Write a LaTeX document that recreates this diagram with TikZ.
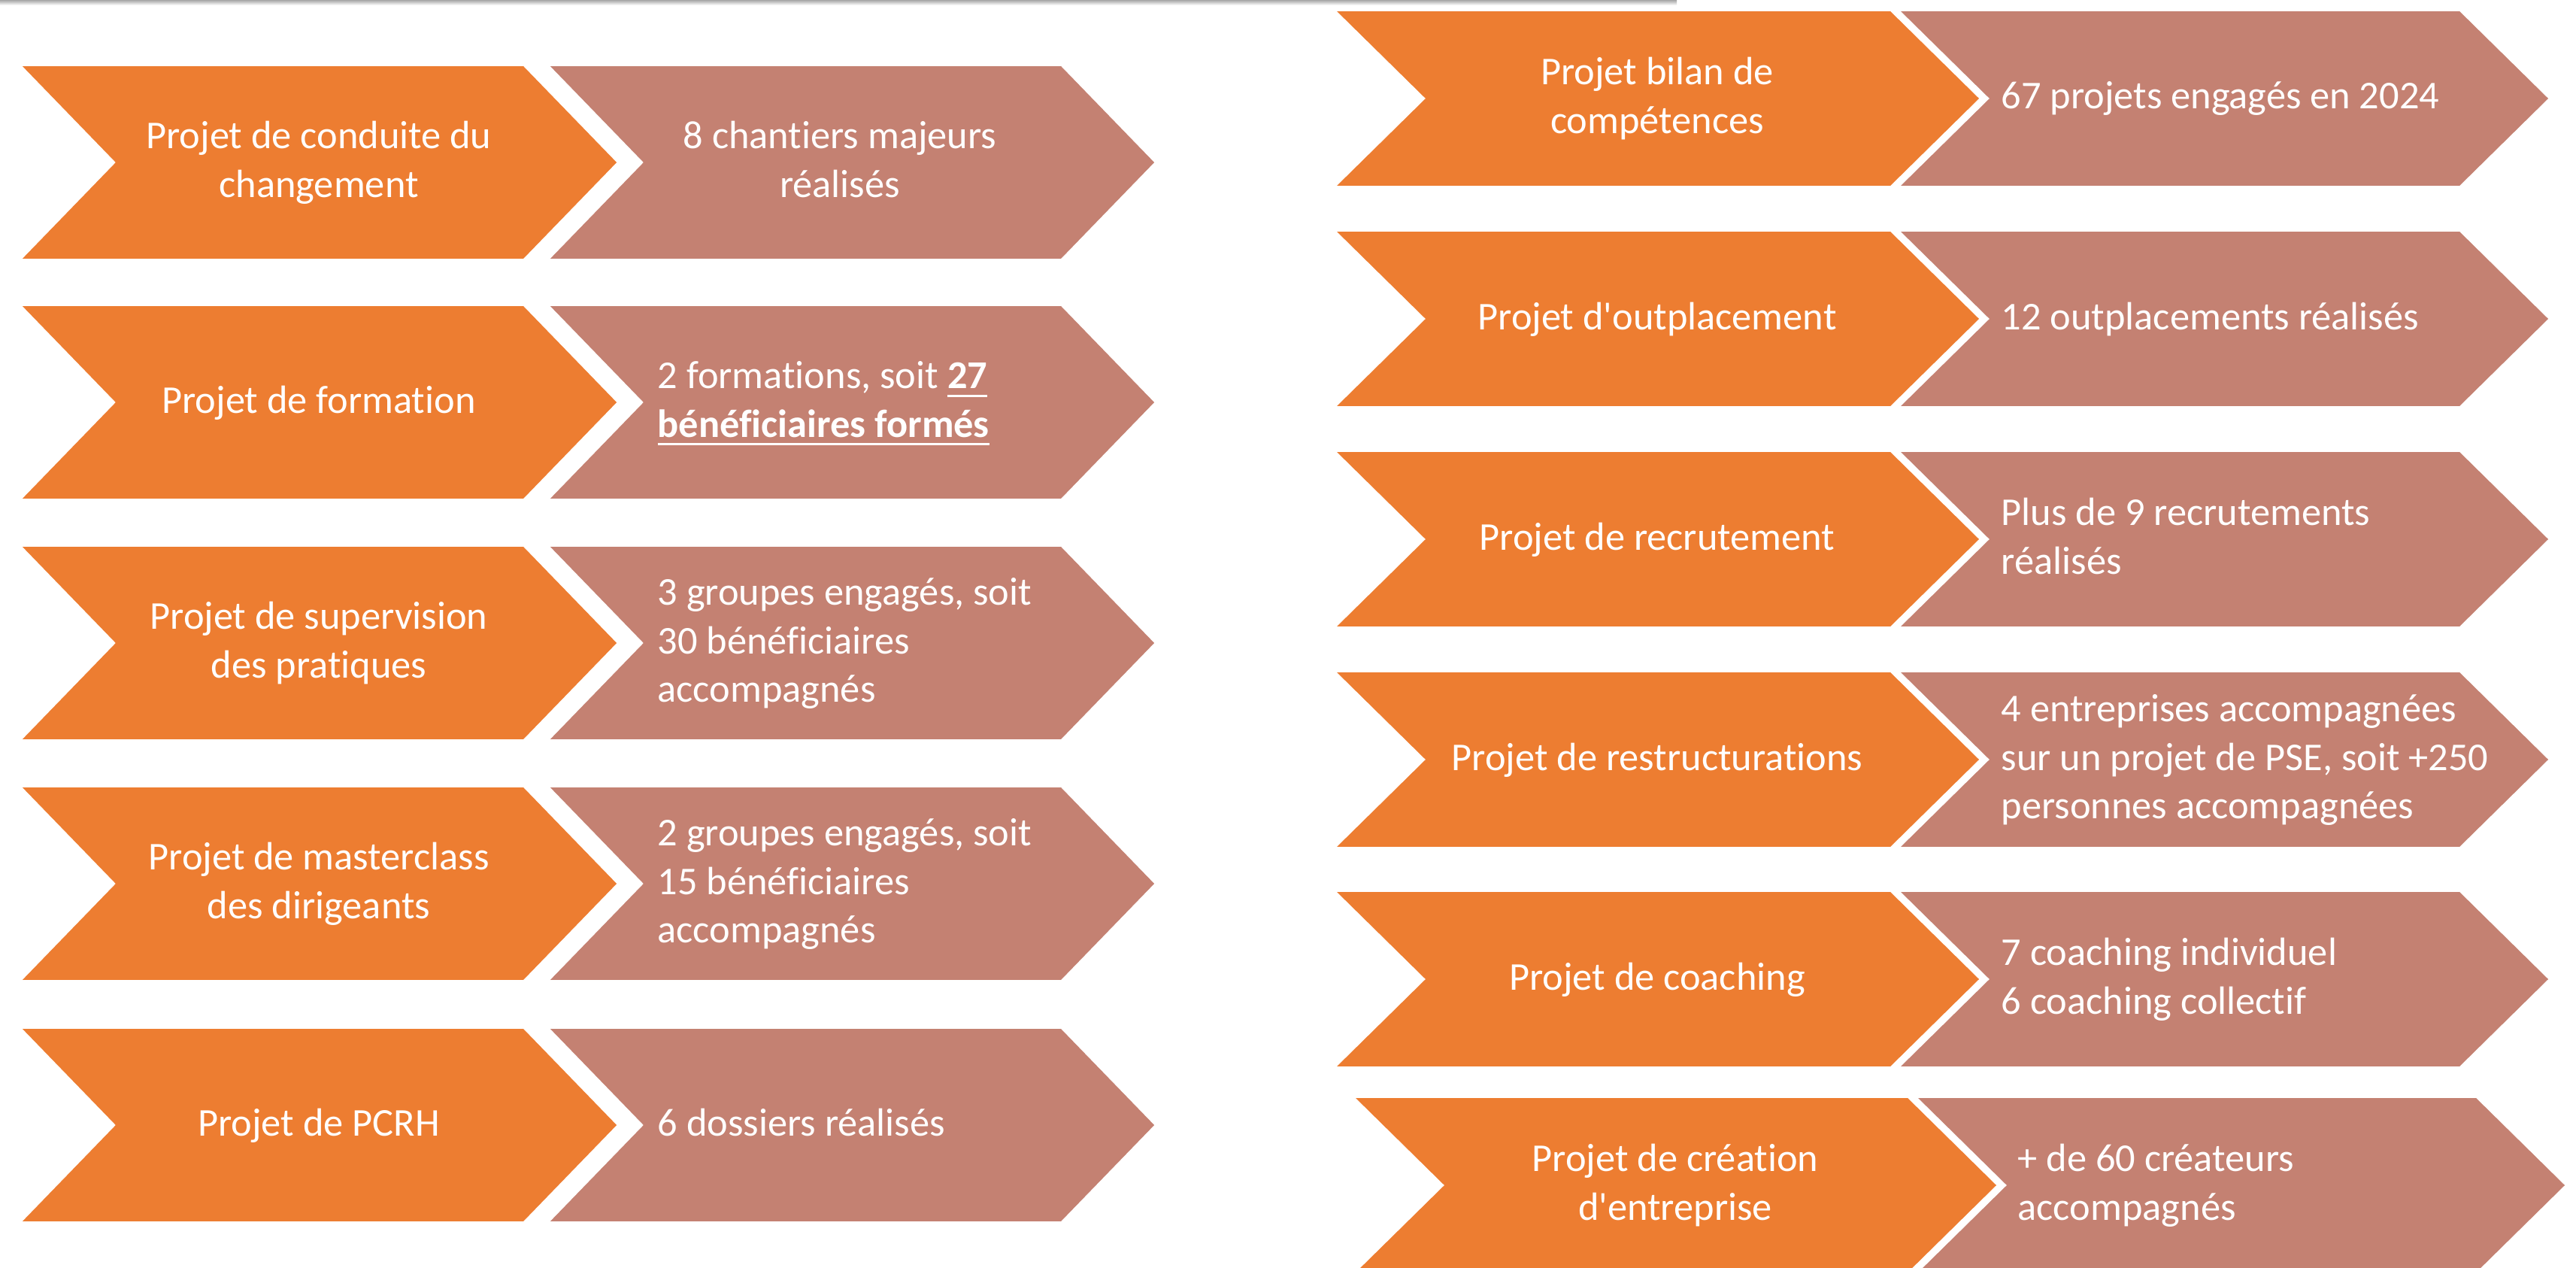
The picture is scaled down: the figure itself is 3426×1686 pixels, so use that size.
\documentclass[tikz,border=0pt]{standalone}
\usepackage{fontspec}
\setmainfont{Carlito}[Ligatures={NoCommon}]
\definecolor{chevorange}{RGB}{237,125,49}
\definecolor{chevbrown}{RGB}{196,129,114}
\newcommand\chevshape[6]{% x0, top, width, height, depth, colour
  \filldraw[fill=#6, draw=white, line width=1.1pt, line join=miter]
    (#1,#2) -- ++(#3-#5,0) -- ++(#5,#4/2) -- ++(-#5,#4/2) -- ++(-#3+#5,0) -- ++(#5,-#4/2) -- cycle;}
\newcommand\st{\rule[-5.12pt]{0pt}{18.21pt}}
\newcommand\myul[1]{\setbox0\hbox{#1}\rlap{\rule[-3.1pt]{\wd0}{0.85pt}}\box0}
\tikzset{
  lbl/.style={text=white, font=\fontsize{14.9pt}{18.21pt}\selectfont, inner sep=0pt},
  otext/.style={lbl, align=center, anchor=center},
  btext/.style={lbl, align=left, anchor=west},
}
\begin{document}
\begin{tikzpicture}[x=0.01cm, y=-0.01cm]
\useasboundingbox (0,0) rectangle (3426,1686);
\fill[white] (0,0) rectangle (3426,1686);
\clip (0,0) rectangle (3426,1686);
\shade[top color=black!35, bottom color=white] (0,0) rectangle (2230,7);

% ---------- left column ----------
\foreach \t in {86,405,725,1045,1366} {
  \chevshape{25}{\t}{798}{260}{126}{chevorange}
  \chevshape{727}{\t}{811}{260}{126}{chevbrown}
}
\node[otext] (L1a) at (424,216) {\st Projet de conduite du\\\st changement};
\node[otext] (L1b) at (1117,216) {\st 8 chantiers majeurs\\\st réalisés};
\node[otext] (L2a) at (424,535) {\st Projet de formation};
\node[btext] (L2b) at (874,535) {\st 2 formations, soit \myul{\textbf{27}}\\\st\myul{\textbf{bénéficiaires formés}}};
\node[otext] (L3a) at (424,855) {\st Projet de supervision\\\st des pratiques};
\node[btext] (L3b) at (874,855) {\st 3 groupes engagés, soit\\\st 30 bénéficiaires\\\st accompagnés};
\node[otext] (L4a) at (424,1175) {\st Projet de masterclass\\\st des dirigeants};
\node[btext] (L4b) at (874,1175) {\st 2 groupes engagés, soit\\\st 15 bénéficiaires\\\st accompagnés};
\node[otext] (L5a) at (424,1496) {\st Projet de PCRH};
\node[btext] (L5b) at (874,1496) {\st 6 dossiers réalisés};

% ---------- right column ----------
\foreach \t in {13,306,599,892,1184} {
  \chevshape{1773}{\t}{862}{236}{120}{chevorange}
  \chevshape{2523}{\t}{869}{236}{120}{chevbrown}
}
\chevshape{1798}{1458}{860}{236}{120}{chevorange}
\chevshape{2546}{1458}{868}{236}{120}{chevbrown}

\node[otext] (R1a) at (2204,131) {\st Projet bilan de\\\st compétences};
\node[btext] (R1b) at (2661,131) {\st 67 projets engagés en 2024};
\node[otext] (R2a) at (2204,424) {\st Projet d\textquotesingle outplacement};
\node[btext] (R2b) at (2661,424) {\st 12 outplacements réalisés};
\node[otext] (R3a) at (2204,717) {\st Projet de recrutement};
\node[btext] (R3b) at (2661,717) {\st Plus de 9 recrutements\\\st réalisés};
\node[otext] (R4a) at (2204,1010) {\st Projet de restructurations};
\node[btext] (R4b) at (2661,1010) {\st 4 entreprises accompagnées\\\st sur un projet de PSE, soit +250\\\st personnes accompagnées};
\node[otext] (R5a) at (2204,1302) {\st Projet de coaching};
\node[btext] (R5b) at (2661,1302) {\st 7 coaching individuel\\\st 6 coaching collectif};
\node[otext] (R6a) at (2228,1576) {\st Projet de création\\\st d\textquotesingle entreprise};
\node[btext] (R6b) at (2683,1576) {\st + de 60 créateurs\\\st accompagnés};
\end{tikzpicture}
\end{document}
